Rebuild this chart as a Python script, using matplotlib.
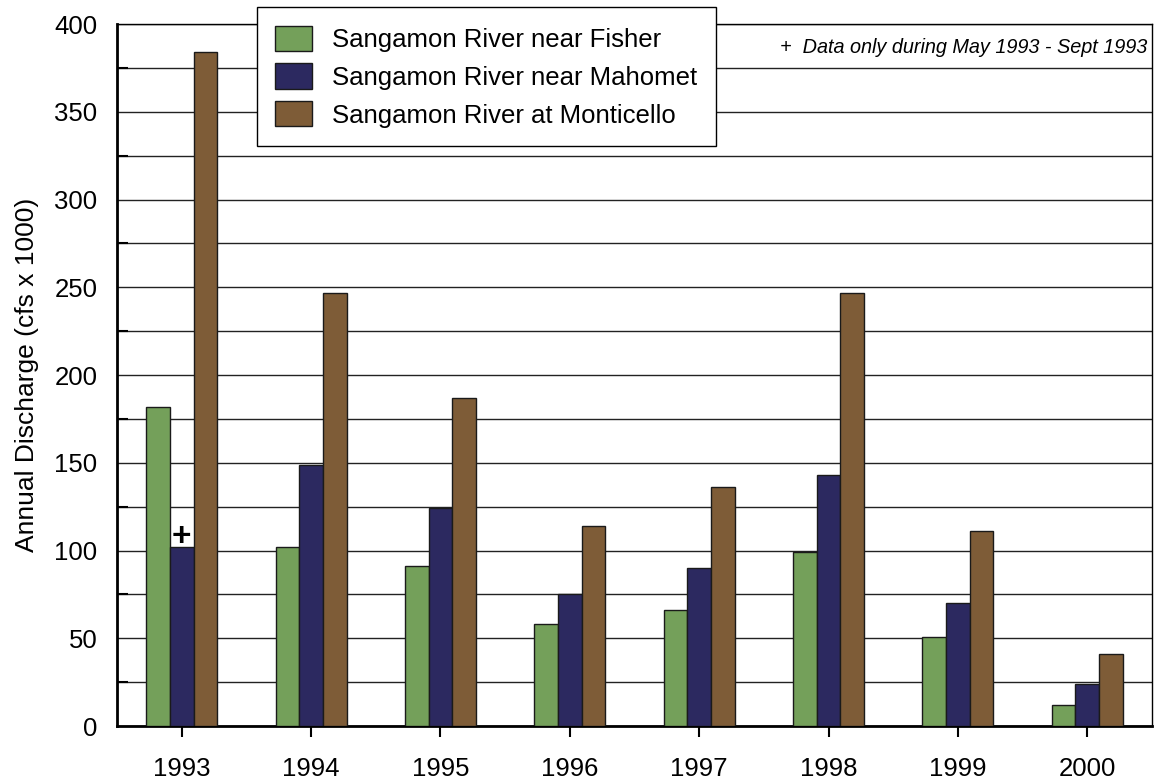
import numpy as np
import matplotlib.pyplot as plt
from matplotlib.ticker import MultipleLocator

years = ['1993', '1994', '1995', '1996', '1997', '1998', '1999', '2000']
fisher = [182, 102, 91, 58, 66, 99, 51, 12]
mahomet = [102, 149, 124, 75, 90, 143, 70, 24]
monticello = [384, 247, 187, 114, 136, 247, 111, 41]
series_names = ['Sangamon River near Fisher', 'Sangamon River near Mahomet',
                'Sangamon River at Monticello']
colors = ['#74A05A', '#2C2960', '#7E5C37']

plt.rcParams['font.family'] = ['Liberation Sans', 'DejaVu Sans']

fig = plt.figure(figsize=(11.57, 7.82), dpi=100)
ax = fig.add_axes([0.1011, 0.0716, 0.8946, 0.8977])

x = np.arange(len(years))
w = 0.183
bars = []
for i, (vals, c) in enumerate(zip([fisher, mahomet, monticello], colors)):
    b = ax.bar(x + (i - 1) * w, vals, width=w, color=c, edgecolor='#1a1a1a',
               linewidth=1, zorder=3)
    bars.append(b)

# marker for partial-year data (Mahomet 1993)
ax.annotate('+', xy=(x[0], mahomet[0]), xytext=(0, 7), textcoords='offset points',
            ha='center', va='center', fontsize=24, fontweight='bold', zorder=4)

ax.set_xlim(-0.5, len(years) - 0.5)
ax.set_ylim(0, 400)
ax.yaxis.set_major_locator(MultipleLocator(50))
ax.yaxis.set_minor_locator(MultipleLocator(25))
ax.grid(axis='y', which='both', color='#222222', linewidth=1, zorder=0)
ax.set_axisbelow(True)

ax.set_xticks(x)
ax.set_xticklabels(years)
ax.tick_params(axis='x', direction='out', length=8, width=1.5, pad=14, labelsize=18.5)
ax.tick_params(axis='y', which='major', direction='in', length=0, pad=14, labelsize=18.5)
ax.tick_params(axis='y', which='minor', direction='in', length=8, width=1.5)

for s in ['left', 'bottom']:
    ax.spines[s].set_linewidth(2)
for s in ['top', 'right']:
    ax.spines[s].set_linewidth(1)

ax.set_ylabel('Annual Discharge (cfs x 1000)', fontsize=19, labelpad=11)

ax.text(0.995, 0.967, '+  Data only during May 1993 - Sept 1993', transform=ax.transAxes,
        ha='right', va='center', fontsize=14.3, style='italic')

leg = fig.legend(bars, series_names, loc='upper left',
                 bbox_to_anchor=(0.222, 0.991), fontsize=18.5, frameon=True,
                 fancybox=False, edgecolor='black', framealpha=1,
                 handlelength=1.44, handleheight=1.13, labelspacing=0.45,
                 handletextpad=0.78, borderpad=0.72, borderaxespad=0)
leg.get_frame().set_linewidth(1)

fig.savefig('out.png', dpi=100)
